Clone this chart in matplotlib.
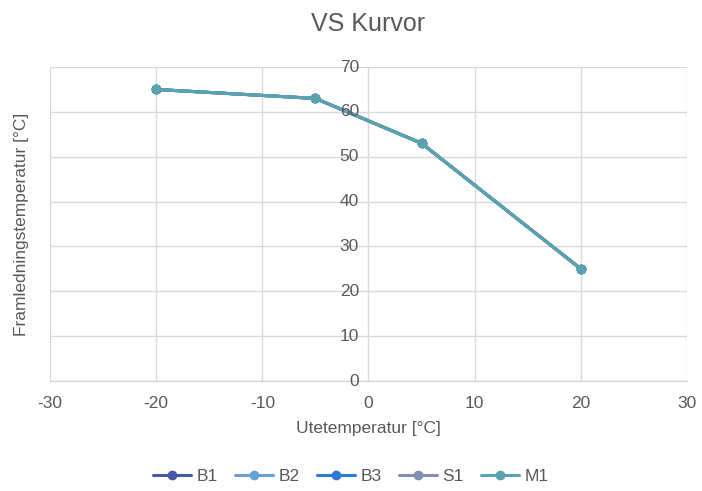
import matplotlib.pyplot as plt
import matplotlib.font_manager as fm

# VS curves - outdoor temp vs supply temp
series_names = ['B1', 'B2', 'B3', 'S1', 'M1']
series_colors = ['#4659a6', '#65a0d9', '#2a7bd9', '#8090b0', '#58a3ad']
ute = [-20, -5, 5, 20]
fram_b1 = [65, 63, 53, 25]
fram_b2 = [65, 63, 53, 25]
fram_b3 = [65, 63, 53, 25]
fram_s1 = [65, 63, 53, 25]
fram_m1 = [65, 63, 53, 25]
all_series = [fram_b1, fram_b2, fram_b3, fram_s1, fram_m1]

names = set(f.name for f in fm.fontManager.ttflist)
fam = 'Liberation Sans Narrow' if 'Liberation Sans Narrow' in names else 'Liberation Sans'
plt.rcParams['font.family'] = [fam, 'DejaVu Sans']
plt.rcParams['axes.unicode_minus'] = False

txt = '#595959'
grid = '#d9d9d9'

fig = plt.figure(figsize=(7.02, 4.91), dpi=100)
ax = fig.add_axes([0.0712, 0.224, 0.9074, 0.6395])

for name, col, vals in zip(series_names, series_colors, all_series):
    ax.plot(ute, vals, color=col, lw=2.2, marker='o', ms=6, label=name,
            solid_capstyle='round')

ax.set_xlim(-30, 30)
ax.set_ylim(0, 70)
ax.set_xticks(range(-30, 31, 10))
ax.set_yticks(range(0, 71, 10))
ax.grid(True, color=grid, lw=1)
ax.set_axisbelow(True)

for s in ['top', 'right', 'left']:
    ax.spines[s].set_visible(False)
ax.spines['bottom'].set_color(grid)
ax.spines['bottom'].set_linewidth(1)

# y-axis crosses at x=0
ax.tick_params(axis='both', length=0, labelsize=12.5, labelcolor=txt)
ax.tick_params(axis='x', pad=11)
ax.set_yticklabels([])
for v in range(0, 71, 10):
    ax.text(-0.9, v, str(v), ha='right', va='center', fontsize=12.5, color=txt)

ax.set_xlabel('Utetemperatur [°C]', fontsize=12.5, color=txt, labelpad=7)
ax.set_ylabel('Framledningstemperatur [°C]', fontsize=12.5, color=txt)
ax.yaxis.set_label_coords(-0.033, 0.5)
ax.set_title('VS Kurvor', fontsize=18, color=txt, pad=26)

fig.legend(loc='lower center', ncol=5, frameon=False, fontsize=12.5,
           bbox_to_anchor=(0.5, -0.018), handlelength=2.2, columnspacing=1.0,
           handletextpad=0.3, labelcolor=txt)

fig.savefig('out.png', dpi=100)
